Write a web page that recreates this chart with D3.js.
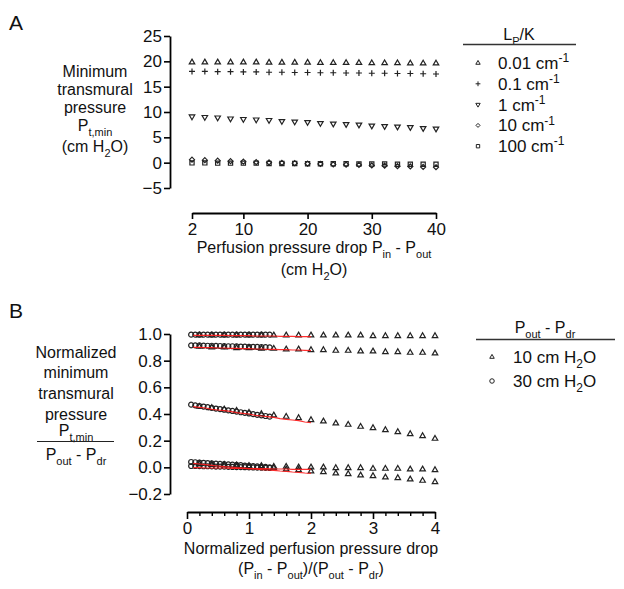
<!DOCTYPE html>
<html><head><meta charset="utf-8">
<script src="https://cdn.jsdelivr.net/npm/d3@7"></script>
<style>body{margin:0;background:#fff}svg{display:block}</style>
</head><body><svg id="c" width="624" height="589"></svg>
<script>
// ---------- Panel A data ----------
const xA = [2,4,6,8,10,12,14,16,18,20,22,24,26,28,30,32,34,36,38,40];
const lpkLabels = ["0.01","0.1","1","10","100"];
const a001 = [19.8,19.8,19.8,19.8,19.8,19.8,19.75,19.75,19.75,19.75,19.7,19.7,19.7,19.7,19.65,19.65,19.65,19.6,19.6,19.6];
const a01  = [18.0,18.0,17.95,17.95,17.9,17.9,17.85,17.85,17.8,17.8,17.75,17.75,17.7,17.7,17.65,17.65,17.6,17.6,17.55,17.5];
const a1   = [9.1,9.0,8.9,8.7,8.6,8.5,8.4,8.2,8.1,8.0,7.8,7.7,7.6,7.5,7.3,7.2,7.1,7.0,6.8,6.7];
const a10  = [0.6,0.5,0.4,0.3,0.2,0.1,0.05,-0.05,-0.1,-0.2,-0.25,-0.35,-0.4,-0.45,-0.55,-0.6,-0.7,-0.75,-0.85,-0.9];
const a100 = [-0.05,-0.05,-0.1,-0.1,-0.1,-0.1,-0.15,-0.15,-0.15,-0.2,-0.2,-0.2,-0.2,-0.25,-0.25,-0.25,-0.3,-0.3,-0.3,-0.3];
const yTicksA = [-5,0,5,10,15,20,25];
const xTicksA = [2,10,20,30,40];
const refDiff = 20; // Pout - Pdr used for panel A (red reference lines in B)

// ---------- Panel B data ----------
const xB10 = [0.2,0.4,0.6,0.8,1.0,1.2,1.4,1.6,1.8,2.0,2.2,2.4,2.6,2.8,3.0,3.2,3.4,3.6,3.8,4.0];
const xB30 = [0.067,0.133,0.2,0.267,0.333,0.4,0.467,0.533,0.6,0.667,0.733,0.8,0.867,0.933,1.0,1.067,1.133,1.2,1.267,1.333];
const b10_001 = [0.99,0.99,0.99,0.99,0.99,0.99,0.99,0.99,0.99,0.99,0.99,0.99,0.99,0.99,0.985,0.985,0.985,0.985,0.985,0.985];
const b10_01  = [0.905,0.9,0.9,0.895,0.895,0.89,0.89,0.885,0.885,0.88,0.88,0.875,0.875,0.87,0.87,0.865,0.865,0.86,0.86,0.855];
const b10_1   = [0.455,0.445,0.435,0.425,0.41,0.4,0.39,0.38,0.37,0.355,0.345,0.33,0.32,0.305,0.295,0.28,0.265,0.25,0.235,0.215];
const b10_10  = [0.025,0.02,0.015,0.01,0.005,0.0,-0.005,-0.015,-0.02,-0.03,-0.035,-0.045,-0.05,-0.06,-0.065,-0.075,-0.08,-0.09,-0.1,-0.11];
const b10_100 = [0.025,0.02,0.02,0.015,0.01,0.01,0.005,0.005,0.0,0.0,0.0,-0.005,-0.005,-0.005,-0.01,-0.01,-0.01,-0.015,-0.015,-0.02];
const b30_001 = [0.995,0.995,0.995,0.995,0.995,0.995,0.995,0.995,0.995,0.995,0.995,0.995,0.995,0.995,0.995,0.995,0.995,0.995,0.995,0.995];
const b30_01  = [0.915,0.915,0.914,0.913,0.912,0.912,0.911,0.91,0.909,0.908,0.908,0.907,0.906,0.905,0.904,0.904,0.903,0.902,0.901,0.9];
const b30_1   = [0.47,0.465,0.46,0.456,0.451,0.446,0.441,0.437,0.432,0.427,0.423,0.418,0.413,0.409,0.404,0.399,0.394,0.39,0.385,0.38];
const b30_10  = [0.04,0.038,0.036,0.034,0.032,0.03,0.028,0.026,0.024,0.022,0.02,0.018,0.016,0.013,0.011,0.009,0.007,0.005,0.003,0.0];
const b30_100 = [0.01,0.01,0.009,0.008,0.008,0.007,0.006,0.005,0.005,0.004,0.003,0.002,0.002,0.001,0.0,-0.001,-0.002,-0.003,-0.004,-0.005];
const yTicksB = [-0.2,0.0,0.2,0.4,0.6,0.8,1.0];
const xMajorB = [0,1,2,3,4];
const xMinorB = [0.2,0.4,0.6,0.8,1.2,1.4,1.6,1.8,2.2,2.4,2.6,2.8,3.2,3.4,3.6,3.8];
const diffLabels = ["10","30"];

// ---------- drawing ----------
const FONT = "'Liberation Sans', Arial, Helvetica, sans-serif";
const svg = d3.select("#c").style("font-family", FONT);

function sym(type, s) {
  const h = s * 0.866;
  switch (type) {
    case "up": return `M0,${-2*h/3}L${s/2},${h/3}L${-s/2},${h/3}Z`;
    case "down": return `M0,${2*h/3}L${s/2},${-h/3}L${-s/2},${-h/3}Z`;
    case "plus": return `M${-s/2},0H${s/2}M0,${-s/2}V${s/2}`;
    case "diamond": return `M0,${-s/2}L${s/2},0L0,${s/2}L${-s/2},0Z`;
    case "square": return `M${-s/2},${-s/2}h${s}v${s}h${-s}Z`;
    case "circle": { const r = s/2; return `M${r},0A${r},${r} 0 1,1 ${-r},0A${r},${r} 0 1,1 ${r},0Z`; }
  }
}

function styleAxis(g) {
  g.selectAll("path.domain").attr("stroke", "#000").attr("stroke-width", 1.8);
  g.selectAll(".tick line").attr("stroke", "#000").attr("stroke-width", 1.6);
  g.selectAll(".tick text").attr("font-family", FONT).attr("font-size", 17).attr("fill", "#111");
}

// subscript-aware text helper: parts = [[text, sub?], ...]
function rich(sel, x, y, parts, size, anchor) {
  const t = sel.append("text").attr("x", x).attr("y", y).attr("font-size", size)
    .attr("text-anchor", anchor || "middle").attr("fill", "#111");
  let prev = "n";
  parts.forEach(([s, k]) => {
    const ts = t.append("tspan").text(s);
    const subSize = Math.round(size * 0.68);
    if (k === "sub") { ts.attr("font-size", subSize).attr("dy", prev === "sub" ? 0 : size*0.3); }
    else if (k === "sup") { ts.attr("font-size", subSize).attr("dy", prev === "sup" ? 0 : -size*0.4); }
    else { ts.attr("dy", prev === "sub" ? -size*0.3 : prev === "sup" ? size*0.4 : 0); }
    prev = k || "n";
  });
  return t;
}

// ===== Panel A =====
const xScaleA = d3.scaleLinear().domain([2, 40]).range([192, 436]);
const yScaleA = d3.scaleLinear().domain([-5, 25]).range([188, 36]);

svg.append("text").attr("x", 9).attr("y", 30).attr("font-size", 21).attr("fill", "#111").text("A");

const gyA = svg.append("g").attr("transform", "translate(170,0)")
  .call(d3.axisLeft(yScaleA).tickValues(yTicksA).tickSize(6).tickSizeOuter(0).tickPadding(2));
styleAxis(gyA);
const gxA = svg.append("g").attr("transform", "translate(0,213)")
  .call(d3.axisBottom(xScaleA).tickValues(xTicksA).tickSize(6).tickSizeOuter(0).tickPadding(4));
styleAxis(gxA);

const seriesA = [
  {v: a001, s: "up", size: 5.5},
  {v: a01, s: "plus", size: 6},
  {v: a1, s: "down", size: 5.5},
  {v: a10, s: "diamond", size: 5},
  {v: a100, s: "square", size: 4.2}
];
seriesA.forEach(ser => {
  svg.append("g").selectAll("path").data(xA).join("path")
    .attr("transform", (d, i) => `translate(${xScaleA(d)},${yScaleA(ser.v[i])})`)
    .attr("d", sym(ser.s, ser.size)).attr("fill", "none").attr("stroke", "#222").attr("stroke-width", 1.2);
});

// A y title
const yTitleA = svg.append("g");
rich(yTitleA, 95, 77, [["Minimum"]], 16);
rich(yTitleA, 95, 95, [["transmural"]], 16);
rich(yTitleA, 95, 113, [["pressure"]], 16);
rich(yTitleA, 95, 131, [["P"], ["t,min", "sub"]], 16);
rich(yTitleA, 95, 152, [["(cm H"], ["2", "sub"], ["O)"]], 16);
// A x title
rich(svg, 314, 253, [["Perfusion pressure drop P"], ["in", "sub"], [" - P"], ["out", "sub"]], 16);
rich(svg, 314, 275, [["(cm H"], ["2", "sub"], ["O)"]], 16);

// A legend
rich(svg, 519, 40, [["L"], ["P", "sub"], ["/K"]], 16);
svg.append("line").attr("x1", 463).attr("x2", 576).attr("y1", 44.5).attr("y2", 44.5).attr("stroke", "#333").attr("stroke-width", 1.3);
seriesA.forEach((ser, i) => {
  const cy = 63 + i * 20.8;
  svg.append("path").attr("transform", `translate(478,${cy})`).attr("d", sym(ser.s, ser.size * 0.8))
    .attr("fill", "none").attr("stroke", "#222").attr("stroke-width", 1);
  rich(svg, 498, cy + 6, [[lpkLabels[i] + " cm"], ["-1", "sup"]], 17, "start");
});

// ===== Panel B =====
const xScaleB = d3.scaleLinear().domain([0, 4]).range([187, 435]);
const yScaleB = d3.scaleLinear().domain([-0.2, 1.0]).range([494, 334]);

svg.append("text").attr("x", 9).attr("y", 318).attr("font-size", 21).attr("fill", "#111").text("B");

const gyB = svg.append("g").attr("transform", "translate(170,0)")
  .call(d3.axisLeft(yScaleB).tickValues(yTicksB).tickFormat(d3.format(".1f")).tickSize(6).tickSizeOuter(0).tickPadding(2));
styleAxis(gyB);
const gxB = svg.append("g").attr("transform", "translate(0,512)")
  .call(d3.axisBottom(xScaleB).tickValues(xMajorB).tickFormat(d3.format("d")).tickSize(7).tickSizeOuter(0).tickPadding(3));
styleAxis(gxB);
const gxBm = svg.append("g").attr("transform", "translate(0,512)")
  .call(d3.axisBottom(xScaleB).tickValues(xMinorB).tickSize(4).tickFormat(""));
gxBm.select("path.domain").remove();
gxBm.selectAll(".tick line").attr("stroke", "#000").attr("stroke-width", 1.4);

const seriesB10 = [b10_001, b10_01, b10_1, b10_10, b10_100];
const seriesB30 = [b30_001, b30_01, b30_1, b30_10, b30_100];

seriesB10.forEach(v => {
  svg.append("g").selectAll("path").data(xB10).join("path")
    .attr("transform", (d, i) => `translate(${xScaleB(d)},${yScaleB(v[i])})`)
    .attr("d", sym("up", 5.5)).attr("fill", "none").attr("stroke", "#222").attr("stroke-width", 1.2);
});
seriesB30.forEach(v => {
  svg.append("g").selectAll("path").data(xB30).join("path")
    .attr("transform", (d, i) => `translate(${xScaleB(d)},${yScaleB(v[i])})`)
    .attr("d", sym("circle", 5)).attr("fill", "none").attr("stroke", "#222").attr("stroke-width", 1.2);
});
// red reference lines: panel A data normalized by its Pout - Pdr
const lineB = d3.line().x(d => xScaleB(d[0])).y(d => yScaleB(d[1]));
seriesA.forEach(ser => {
  const pts = xA.map((x, i) => [x / refDiff, ser.v[i] / refDiff]);
  svg.append("path").attr("d", lineB(pts)).attr("fill", "none").attr("stroke", "#ff1a1a")
    .attr("stroke-width", 1.2).attr("stroke-opacity", 0.9);
});

// B y title
const yTitleB = svg.append("g");
rich(yTitleB, 76, 358, [["Normalized"]], 16);
rich(yTitleB, 76, 378, [["minimum"]], 16);
rich(yTitleB, 76, 399, [["transmural"]], 16);
rich(yTitleB, 76, 420, [["pressure"]], 16);
rich(yTitleB, 76, 436, [["P"], ["t,min", "sub"]], 16);
yTitleB.append("line").attr("x1", 37).attr("x2", 114).attr("y1", 441.5).attr("y2", 441.5).attr("stroke", "#222").attr("stroke-width", 1.2);
rich(yTitleB, 76, 460, [["P"], ["out", "sub"], [" - P"], ["dr", "sub"]], 16);

// B x title
rich(svg, 311, 554, [["Normalized perfusion pressure drop"]], 16);
rich(svg, 311, 574, [["(P"], ["in", "sub"], [" - P"], ["out", "sub"], [")/(P"], ["out", "sub"], [" - P"], ["dr", "sub"], [")"]], 16);

// B legend
rich(svg, 545, 333, [["P"], ["out", "sub"], [" - P"], ["dr", "sub"]], 16);
svg.append("line").attr("x1", 476).attr("x2", 615).attr("y1", 339.5).attr("y2", 339.5).attr("stroke", "#333").attr("stroke-width", 1.3);
["up", "circle"].forEach((s, i) => {
  const cy = 357 + i * 24;
  svg.append("path").attr("transform", `translate(492,${cy})`).attr("d", sym(s, 4.5))
    .attr("fill", "none").attr("stroke", "#222").attr("stroke-width", 1);
  rich(svg, 513, cy + 6, [[diffLabels[i] + " cm H"], ["2", "sub"], ["O"]], 17, "start");
});
</script></body></html>
